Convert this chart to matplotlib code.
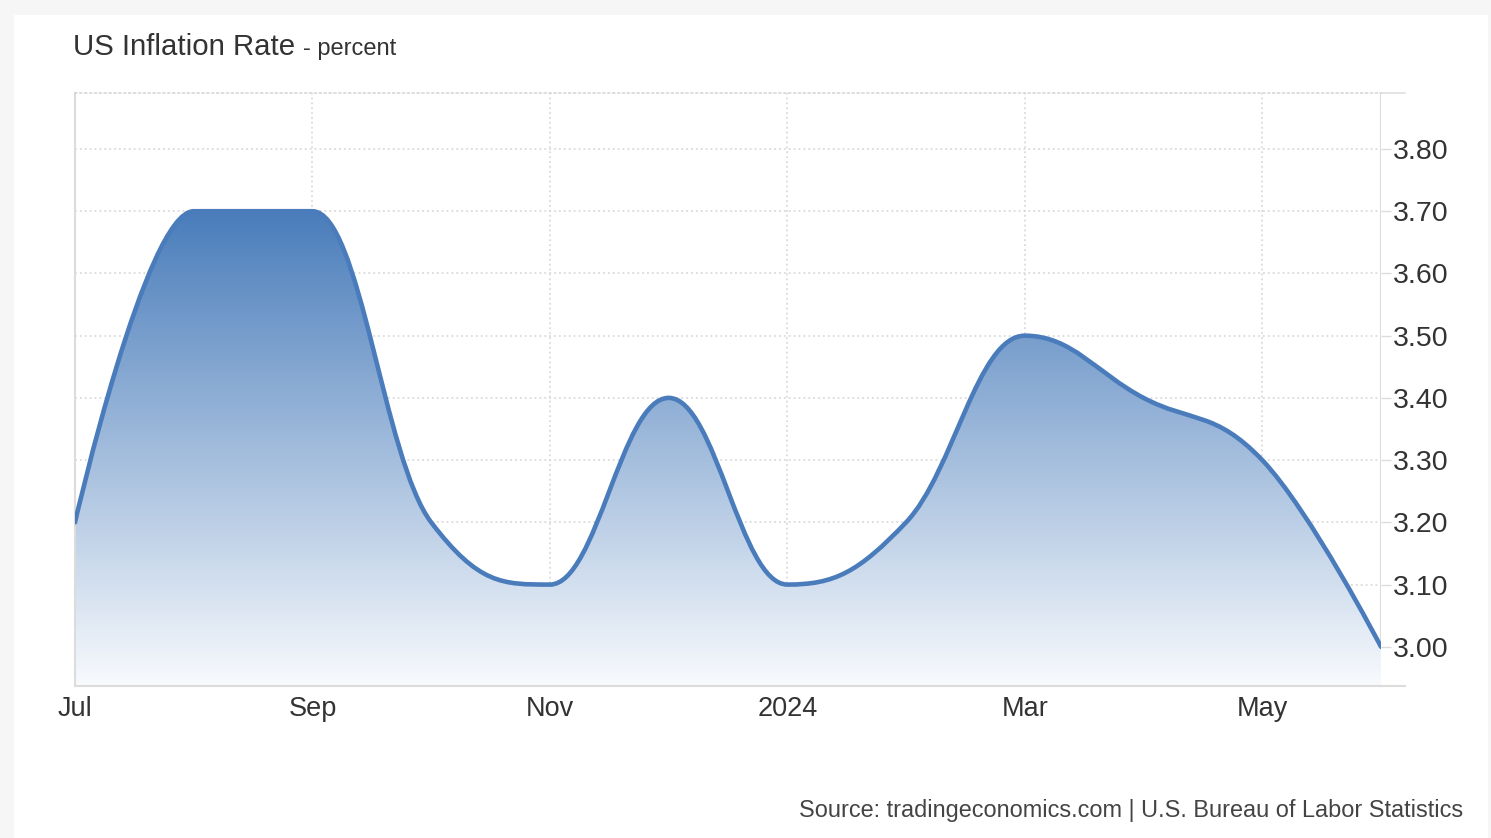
import matplotlib
matplotlib.use("Agg")
import matplotlib.pyplot as plt
import numpy as np
from matplotlib.path import Path
from matplotlib.patches import PathPatch, Rectangle
from matplotlib.colors import to_rgb

plt.rcParams["font.family"] = ["Liberation Sans", "DejaVu Sans"]

MONTHS = ["Jul", "Aug", "Sep", "Oct", "Nov", "Dec",
          "Jan", "Feb", "Mar", "Apr", "May", "Jun"]
INFLATION = [3.2, 3.7, 3.7, 3.2, 3.1, 3.4, 3.1, 3.2, 3.5, 3.4, 3.3, 3.0]

TICK_POS = [0, 2, 4, 6, 8, 10]
TICK_LABELS = ["Jul", "Sep", "Nov", "2024", "Mar", "May"]
Y_TICKS = [3.0, 3.1, 3.2, 3.3, 3.4, 3.5, 3.6, 3.7, 3.8]

LINE_COLOR = "#4a7cbc"
TOP_COLOR = "#4a7dbb"
BOTTOM_COLOR = "#f8fafd"
GRID_COLOR = "#d4d4d4"
AXIS_COLOR = "#dcdcdc"
TEXT_COLOR = "#333333"

Y_MIN, Y_MAX = 2.937, 3.89


def spline_path(xs, ys, smoothing=1.5):
    # same control-point rule as the highcharts "spline" series
    n = len(xs)
    left = [None] * n
    right = [None] * n
    denom = smoothing + 1
    for i in range(1, n - 1):
        px, py = xs[i], ys[i]
        lx, ly = xs[i - 1], ys[i - 1]
        nx, ny = xs[i + 1], ys[i + 1]
        lcx = (smoothing * px + lx) / denom
        lcy = (smoothing * py + ly) / denom
        rcx = (smoothing * px + nx) / denom
        rcy = (smoothing * py + ny) / denom
        if rcx != lcx:
            corr = (rcy - lcy) * (rcx - px) / (rcx - lcx) + py - rcy
            lcy += corr
            rcy += corr
        if lcy > ly and lcy > py:
            lcy = max(ly, py)
            rcy = 2 * py - lcy
        elif lcy < ly and lcy < py:
            lcy = min(ly, py)
            rcy = 2 * py - lcy
        if rcy > ny and rcy > py:
            rcy = max(ny, py)
            lcy = 2 * py - rcy
        elif rcy < ny and rcy < py:
            rcy = min(ny, py)
            lcy = 2 * py - rcy
        left[i] = (lcx, lcy)
        right[i] = (rcx, rcy)

    verts = [(xs[0], ys[0])]
    codes = [Path.MOVETO]
    for i in range(1, n):
        c1 = right[i - 1] or (xs[i - 1], ys[i - 1])
        c2 = left[i] or (xs[i], ys[i])
        verts += [c1, c2, (xs[i], ys[i])]
        codes += [Path.CURVE4] * 3
    return verts, codes


def main():
    fig = plt.figure(figsize=(14.91, 8.38), dpi=100, facecolor="#f6f6f6")
    fig.patches.append(Rectangle((14 / 1491, 0), 1474 / 1491, 823 / 838,
                                 transform=fig.transFigure, facecolor="white",
                                 edgecolor="none", zorder=-5))

    ax = fig.add_axes([75 / 1491, 152 / 838, 1306 / 1491, 593 / 838])
    ax.set_facecolor("none")

    xs = list(range(len(INFLATION)))
    verts, codes = spline_path(xs, INFLATION)

    # area under the curve with a vertical gradient
    fill_verts = verts + [(xs[-1], Y_MIN), (xs[0], Y_MIN), verts[0]]
    fill_codes = codes + [Path.LINETO, Path.LINETO, Path.CLOSEPOLY]
    fill_patch = PathPatch(Path(fill_verts, fill_codes), facecolor="none",
                           edgecolor="none")
    ax.add_patch(fill_patch)
    top = np.array(to_rgb(TOP_COLOR))
    bot = np.array(to_rgb(BOTTOM_COLOR))
    t = np.linspace(0, 1, 256)[:, None]
    grad = (bot + (top - bot) * t)[:, None, :]
    img = ax.imshow(grad, extent=[xs[0], xs[-1], Y_MIN, max(INFLATION)],
                    origin="lower", aspect="auto", interpolation="bicubic",
                    zorder=1)
    img.set_clip_path(fill_patch)

    line = PathPatch(Path(verts, codes), facecolor="none",
                     edgecolor=LINE_COLOR, linewidth=3.3, zorder=3,
                     capstyle="round", joinstyle="round")
    ax.add_patch(line)

    ax.set_xlim(0, 11)
    ax.set_ylim(Y_MIN, Y_MAX)

    for y in Y_TICKS:
        ax.axhline(y, color=GRID_COLOR, lw=1.1, ls=(0, (1.2, 2)), zorder=0.5)
    for x in TICK_POS[1:]:
        ax.axvline(x, color=GRID_COLOR, lw=1.1, ls=(0, (1.2, 2)), zorder=0.5)
    ax.axvline(11, color=AXIS_COLOR, lw=1.5, zorder=0.6)

    ax.spines["right"].set_visible(False)
    ax.spines["left"].set_color(AXIS_COLOR)
    ax.spines["left"].set_linewidth(1.5)
    ax.spines["bottom"].set_color(AXIS_COLOR)
    ax.spines["bottom"].set_linewidth(1.5)
    ax.spines["top"].set_color(GRID_COLOR)
    ax.spines["top"].set_linewidth(1.1)
    ax.spines["top"].set_linestyle((0, (1.2, 2)))
    # axis lines run a little past the last point
    ax.plot([1, 1.018], [0, 0], transform=ax.transAxes, color=AXIS_COLOR,
            lw=1.5, clip_on=False)
    ax.plot([1, 1.018], [1, 1], transform=ax.transAxes, color=AXIS_COLOR,
            lw=1.1, clip_on=False)

    ax.set_xticks(TICK_POS)
    ax.set_xticklabels(TICK_LABELS)
    ax.tick_params(axis="x", length=0, pad=7, labelsize=19.5,
                   labelcolor=TEXT_COLOR)

    ax.yaxis.tick_right()
    ax.set_yticks(Y_TICKS)
    ax.set_yticklabels([f"{v:.2f}" for v in Y_TICKS])
    ax.tick_params(axis="y", length=7.5, width=1, color=AXIS_COLOR, pad=1,
                   labelsize=20.5, labelcolor=TEXT_COLOR)

    fig.text(73 / 1491, 1 - 55 / 838, "US Inflation Rate", fontsize=21.2,
             color=TEXT_COLOR, ha="left", va="baseline")
    fig.text(303 / 1491, 1 - 55 / 838, "- percent", fontsize=17,
             color=TEXT_COLOR, ha="left", va="baseline")

    fig.text(1463 / 1491, 1 - 817 / 838,
             "Source: tradingeconomics.com | U.S. Bureau of Labor Statistics",
             fontsize=16.9, color="#444444", ha="right", va="baseline")

    fig.savefig("out.png", dpi=100, facecolor=fig.get_facecolor())


if __name__ == "__main__":
    main()
